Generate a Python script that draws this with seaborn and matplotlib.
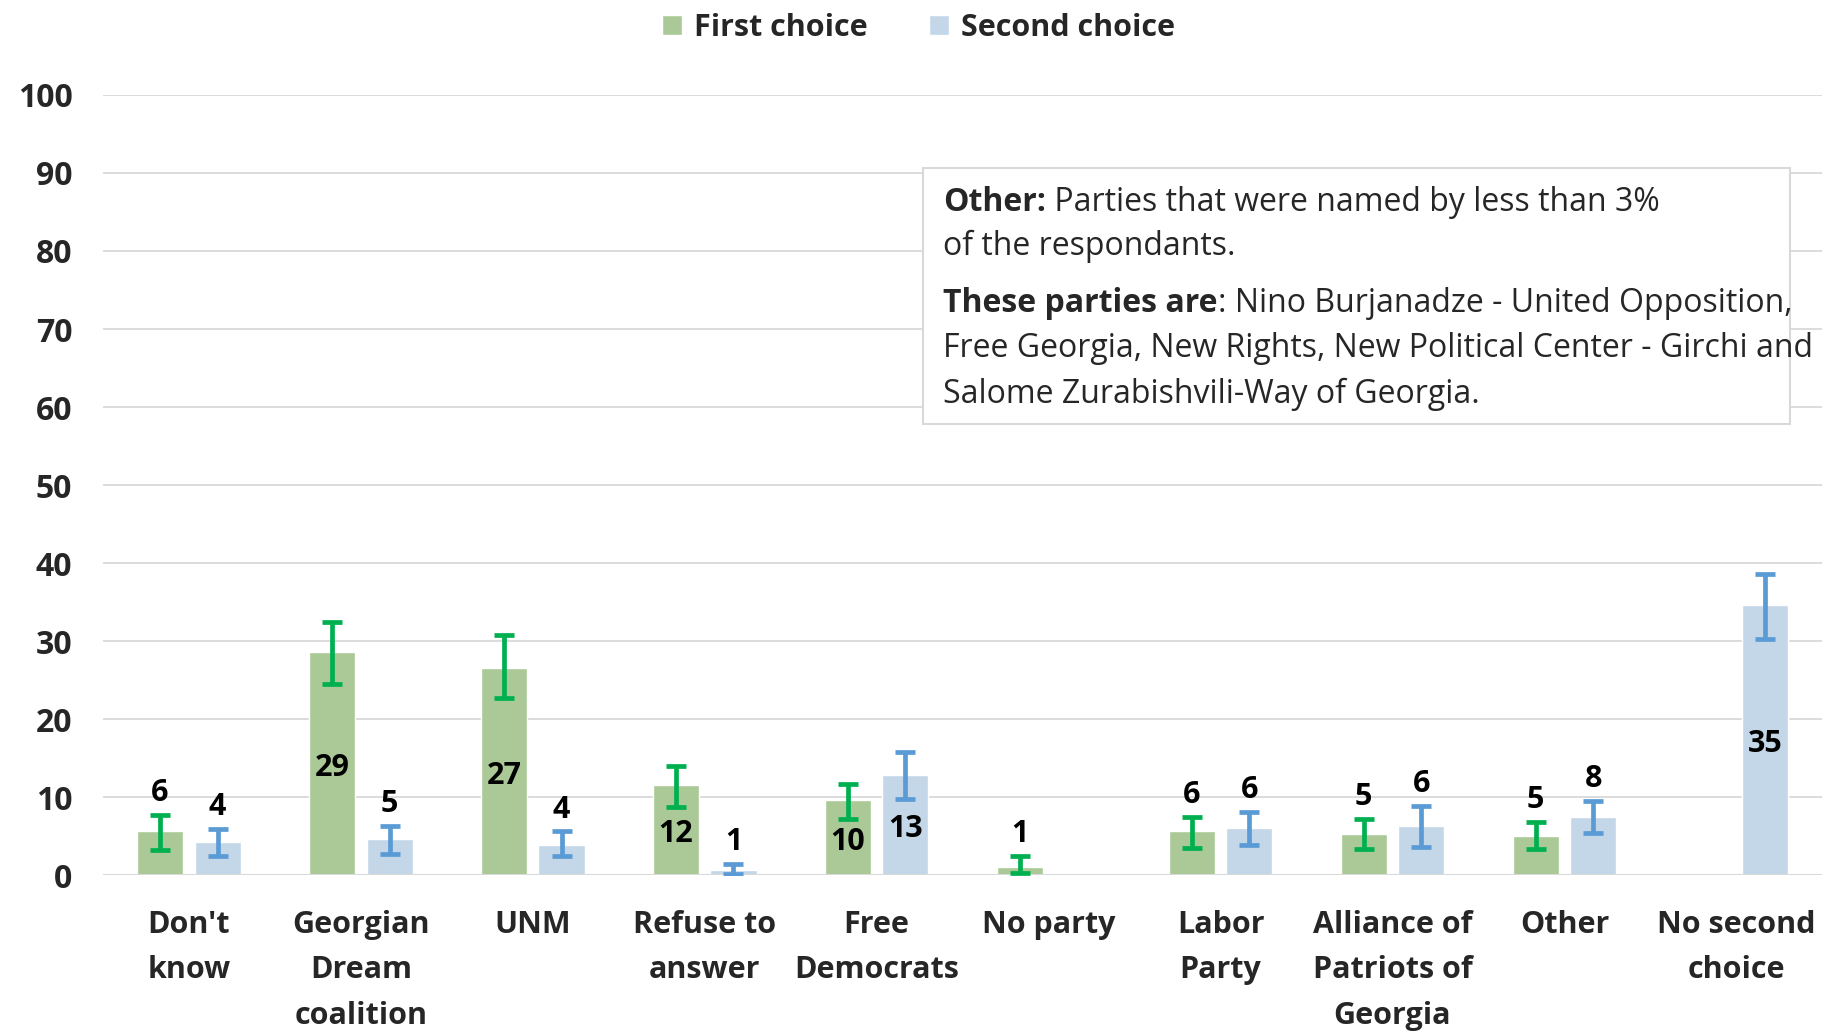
import numpy as np
import pandas as pd
import matplotlib
matplotlib.use('Agg')
import matplotlib.pyplot as plt
import seaborn as sns
from matplotlib.patches import Rectangle
from matplotlib.text import Annotation

# Chart values (percent)
categories = ["Don't\nknow", "Georgian\nDream\ncoalition", "UNM", "Refuse to\nanswer",
              "Free\nDemocrats", "No party", "Labor\nParty", "Alliance of\nPatriots of\nGeorgia",
              "Other", "No second\nchoice"]
series_names = ["First choice", "Second choice"]

first_vals = [5.6, 28.6, 26.6, 11.6, 9.6, 1.1, 5.6, 5.3, 5.0, np.nan]
second_vals = [4.2, 4.6, 3.9, 0.6, 12.8, np.nan, 6.0, 6.3, 7.5, 34.6]

first_lo = [3.2, 24.5, 22.7, 8.7, 7.2, 0.3, 3.5, 3.3, 3.3, np.nan]
first_hi = [7.7, 32.4, 30.8, 14.0, 11.7, 2.4, 7.5, 7.2, 6.8, np.nan]
second_lo = [2.4, 2.7, 2.4, 0.2, 9.8, np.nan, 3.8, 3.6, 5.4, 30.3]
second_hi = [5.9, 6.3, 5.6, 1.4, 15.8, np.nan, 8.1, 8.9, 9.5, 38.6]

first_labels = ['6', '29', '27', '12', '10', '1', '6', '5', '5', '']
second_labels = ['4', '5', '4', '1', '13', '', '6', '6', '8', '35']

bar_colors = ['#A9D18E', '#BDD7EE']
err_colors = ['#00B050', '#5B9BD5']

sns.set_theme(style='white')
plt.rcParams['font.family'] = ['Open Sans', 'DejaVu Sans']
FS = 22

df = pd.DataFrame({
    'category': categories * 2,
    'series': [series_names[0]] * len(categories) + [series_names[1]] * len(categories),
    'value': first_vals + second_vals,
}).dropna()

fig = plt.figure(figsize=(18.37, 10.32), dpi=100)
ax = fig.add_axes([0.056, 0.152, 0.936, 0.756])

sns.barplot(data=df, x='category', y='value', hue='series', order=categories,
            hue_order=series_names, palette=bar_colors, width=0.67, gap=0.2,
            errorbar=None, ax=ax, legend=True)

lows = [first_lo, second_lo]
highs = [first_hi, second_hi]
lbls = [first_labels, second_labels]
vals = [first_vals, second_vals]

bar_conts = list(ax.containers)
for h, cont in enumerate(bar_conts):
    for bar in cont:
        if not np.isfinite(bar.get_height()) or bar.get_height() == 0:
            continue
        xc = bar.get_x() + bar.get_width() / 2
        i = int(round(xc))
        v = vals[h][i]
        lo, hi = lows[h][i], highs[h][i]
        ax.errorbar(xc, v, yerr=[[v - lo], [hi - v]], fmt='none', ecolor=err_colors[h],
                    elinewidth=3.4, capsize=7.5, capthick=3.4, zorder=4)
        if v >= 9.5:
            ax.annotate(lbls[h][i], (xc, v / 2), xytext=(0, -3), textcoords='offset points',
                        ha='center', va='center', fontsize=FS, fontweight='bold',
                        color='black', zorder=5)
        else:
            ax.annotate(lbls[h][i], (xc, hi), xytext=(0, 5), textcoords='offset points',
                        ha='center', va='bottom', fontsize=FS, fontweight='bold',
                        color='black', zorder=5)

ax.set_xlim(-0.5, len(categories) - 0.5)
ax.set_ylim(0, 100)
ax.set_yticks(range(0, 101, 10))
ax.yaxis.grid(True, color='#D9D9D9', linewidth=1.3)
ax.set_axisbelow(True)
for s in ax.spines.values():
    s.set_visible(False)
ax.axhline(0, color='#D9D9D9', linewidth=1.5, zorder=1)
ax.tick_params(axis='y', length=0, pad=22, labelsize=23)
ax.tick_params(axis='x', length=0, pad=25, labelsize=FS)
for t in ax.get_yticklabels() + ax.get_xticklabels():
    t.set_fontweight('bold')
for t in ax.get_xticklabels():
    t.set_linespacing(1.67)
ax.set_xlabel('')
ax.set_ylabel('')

handles, labels = ax.get_legend_handles_labels()
ax.legend(handles, labels, loc='center', bbox_to_anchor=(0.5, 0.973),
          bbox_transform=fig.transFigure, ncol=2, frameon=False,
          prop={'weight': 'bold', 'size': FS}, handlelength=0.65, handleheight=0.65,
          handletextpad=0.4, columnspacing=2.0)

# Note box
fig.patches.append(Rectangle((923 / 1837, 1 - 424 / 1032), (1790 - 923) / 1837, (424 - 168) / 1032,
                             transform=fig.transFigure, facecolor='white',
                             edgecolor='#D9D9D9', linewidth=1.5, zorder=3))

note_lines = [
    ("Other:", " Parties that were named by less than 3%"),
    ("", "of the respondants."),
    ("These parties are", ": Nino Burjanadze - United Opposition,"),
    ("", "Free Georgia, New Rights, New Political Center - Girchi and"),
    ("", "Salome Zurabishvili-Way of Georgia."),
]
baselines = [211, 255, 312, 357, 403]
x0 = 943 / 1837
NFS = 23
for (bold, rest), yb in zip(note_lines, baselines):
    y = 1 - yb / 1032
    if bold:
        t = fig.text(x0, y, bold, fontsize=NFS, fontweight='bold', va='baseline', ha='left', zorder=6)
        fig.add_artist(Annotation(rest, xy=(1, 0), xycoords=t, va='bottom', ha='left',
                                  fontsize=NFS, annotation_clip=False, zorder=6))
    else:
        fig.text(x0, y, rest, fontsize=NFS, va='baseline', ha='left', zorder=6)

fig.savefig('out.png', dpi=100)
